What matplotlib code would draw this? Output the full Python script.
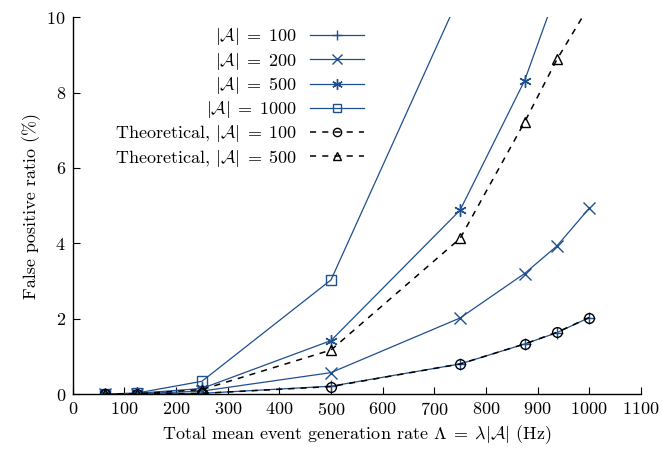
import matplotlib
matplotlib.use("Agg")
import matplotlib.pyplot as plt

plt.rcParams['font.family'] = ['cmr10', 'DejaVu Serif']
plt.rcParams['mathtext.fontset'] = 'cm'
plt.rcParams['axes.formatter.use_mathtext'] = True

x = [62.5, 125, 250, 500, 750, 875, 937.5, 1000]
sim_100 = [0.0, 0.0, 0.02, 0.21, 0.80, 1.33, 1.63, 2.03]
sim_200 = [0.0, 0.01, 0.08, 0.57, 2.02, 3.20, 3.93, 4.93]
sim_500 = [0.0, 0.02, 0.15, 1.42, 4.88, 8.32, 10.7, 13.5]
sim_1000 = [0.0, 0.03, 0.34, 3.03, 10.6, 16.0, 19.0, 22.0]
theo_100 = [0.0, 0.0, 0.02, 0.20, 0.80, 1.33, 1.64, 2.03]
theo_500 = [0.0, 0.01, 0.12, 1.17, 4.13, 7.22, 8.88, 10.3]

labels = [r'$|\mathcal{A}|\;=\;100$', r'$|\mathcal{A}|\;=\;200$', r'$|\mathcal{A}|\;=\;500$',
          r'$|\mathcal{A}|\;=\;1000$', r'Theoretical, $|\mathcal{A}|\;=\;100$',
          r'Theoretical, $|\mathcal{A}|\;=\;500$']

blue = '#1f4f8f'
fs = 13
fig = plt.figure(figsize=(6.62, 4.53), dpi=100)
ax = fig.add_axes([0.110, 0.130, 0.858, 0.832])

ax.plot(x, sim_100, color=blue, lw=0.9, marker='+', ms=9, mew=1.0, label=labels[0])
ax.plot(x, sim_200, color=blue, lw=0.9, marker='x', ms=8, mew=1.0, label=labels[1])
ax.plot(x, sim_500, color=blue, lw=0.9, marker=(6, 2, 0), ms=9, mew=1.0, label=labels[2])
ax.plot(x, sim_1000, color=blue, lw=0.9, marker='s', ms=7, mfc='none', mew=1.0, label=labels[3])
ax.plot(x, theo_100, color='black', lw=1.1, ls=(0, (4, 4)), marker='o', ms=7, mfc='none', mew=1.0, label=labels[4])
ax.plot(x, theo_500, color='black', lw=1.1, ls=(0, (4, 4)), marker='^', ms=7, mfc='none', mew=1.0, label=labels[5])

ax.set_xlim(0, 1100)
ax.set_ylim(0, 10)
ax.set_xticks(range(0, 1101, 100))
ax.set_yticks(range(0, 11, 2))
for s in ['top', 'right']:
    ax.spines[s].set_visible(False)
ax.spines['left'].set_linewidth(1.0)
ax.spines['bottom'].set_linewidth(1.0)
ax.tick_params(direction='in', length=5, labelsize=fs, top=False, right=False, pad=5)
ax.set_xlabel(r'Total mean event generation rate $\Lambda \;=\; \lambda|\mathcal{A}|$ (Hz)', fontsize=fs)
ax.set_ylabel('False positive ratio (%)', fontsize=fs)

leg = ax.legend(loc='upper right', bbox_to_anchor=(0.519, 0.985), frameon=False, markerfirst=False,
                fontsize=fs, handlelength=3.0, labelspacing=0.18, borderaxespad=0.0,
                borderpad=0.2, handletextpad=0.7, markerscale=0.85)
for t in leg.get_texts():
    t.set_ha('right')
leg._legend_box.align = 'right'

fig.savefig('out.png', dpi=100)
